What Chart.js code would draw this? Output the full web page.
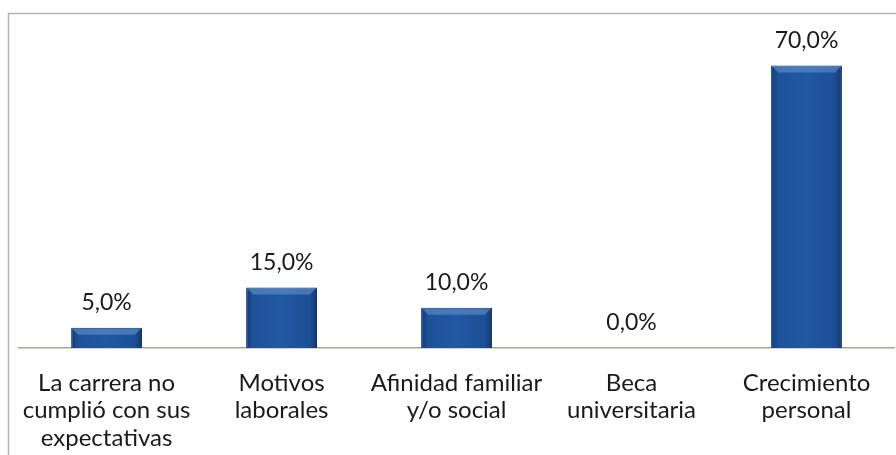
<!DOCTYPE html>
<html><head><meta charset="utf-8">
<script src="https://cdn.jsdelivr.net/npm/chart.js@4.4.1/dist/chart.umd.min.js"></script>
<style>html,body{margin:0;padding:0;background:#fff;}#wrap{width:896px;height:455px;position:relative;}</style>
</head><body><div id="wrap"><canvas id="c" width="896" height="455"></canvas></div>
<script>
const categories = [
  ["La carrera no","cumplió con sus","expectativas"],
  ["Motivos","laborales"],
  ["Afinidad familiar","y/o social"],
  ["Beca","universitaria"],
  ["Crecimiento","personal"]
];
const percentages = [5.0, 15.0, 10.0, 0.0, 70.0];
const valueLabels = ["5,0%", "15,0%", "10,0%", "0,0%", "70,0%"];

const FONT = "Lato, 'Open Sans', sans-serif";

const framePlugin = {
  id: 'frame',
  beforeDraw(chart) {
    const ctx = chart.ctx;
    ctx.save();
    ctx.strokeStyle = '#b4b4b4';
    ctx.lineWidth = 1.5;
    ctx.beginPath();
    ctx.moveTo(8.5, 460);
    ctx.lineTo(8.5, 13.5);
    ctx.lineTo(900, 13.5);
    ctx.stroke();
    ctx.restore();
  }
};

const labelPlugin = {
  id: 'vlabels',
  afterDatasetsDraw(chart) {
    const ctx = chart.ctx;
    const meta = chart.getDatasetMeta(0);
    ctx.save();
    meta.data.forEach((bar) => {
      const h = bar.base - bar.y;
      if (h < 3) return;
      const x0 = bar.x - bar.width / 2, x1 = bar.x + bar.width / 2;
      const b = Math.min(7, h / 2);
      ctx.fillStyle = 'rgba(120,165,225,0.45)';
      ctx.beginPath();
      ctx.moveTo(x0 + 1, bar.y + 1);
      ctx.lineTo(x1 - 1, bar.y + 1);
      ctx.lineTo(x1 - b, bar.y + b);
      ctx.lineTo(x0 + b, bar.y + b);
      ctx.closePath();
      ctx.fill();
    });
    ctx.font = "23px " + FONT;
    ctx.fillStyle = '#1a1a1a';
    ctx.textAlign = 'center';
    ctx.textBaseline = 'middle';
    meta.data.forEach((bar, i) => {
      ctx.fillText(valueLabels[i], bar.x, bar.y - 25);
    });
    ctx.restore();
  }
};

function barFill(context) {
  const chart = context.chart;
  const xs = chart.scales && chart.scales.x;
  if (!chart.chartArea || !xs) return '#1f56a0';
  const cx = xs.getPixelForValue(context.dataIndex);
  if (!isFinite(cx)) return '#1f56a0';
  const w = 71;
  const g = chart.ctx.createLinearGradient(cx - w / 2, 0, cx + w / 2, 0);
  g.addColorStop(0, '#143a70');
  g.addColorStop(0.1, '#1d5299');
  g.addColorStop(0.5, '#2058a2');
  g.addColorStop(0.9, '#1c4f96');
  g.addColorStop(1, '#12376a');
  return g;
}

new Chart(document.getElementById('c'), {
  type: 'bar',
  data: {
    labels: categories,
    datasets: [{
      data: percentages,
      backgroundColor: barFill,
      borderColor: '#10356a',
      borderWidth: 1,
      borderSkipped: 'bottom',
      categoryPercentage: 0.81,
      barPercentage: 0.5
    }]
  },
  options: {
    responsive: false,
    animation: false,
    devicePixelRatio: 1,
    layout: { padding: { left: 17, right: 2, top: 25, bottom: 0 } },
    plugins: { legend: { display: false }, tooltip: { enabled: false } },
    scales: {
      x: {
        grid: { display: false, drawTicks: false },
        border: { display: true, color: '#a9a39c', width: 1.5 },
        ticks: {
          color: '#1a1a1a',
          font: { family: FONT, size: 24, lineHeight: 1.15 },
          padding: 21,
          maxRotation: 0,
          autoSkip: false
        },
        afterFit(scale) { scale.height = 107; }
      },
      y: {
        display: false,
        min: 0,
        max: 80
      }
    }
  },
  plugins: [framePlugin, labelPlugin]
});
</script>
</body></html>
